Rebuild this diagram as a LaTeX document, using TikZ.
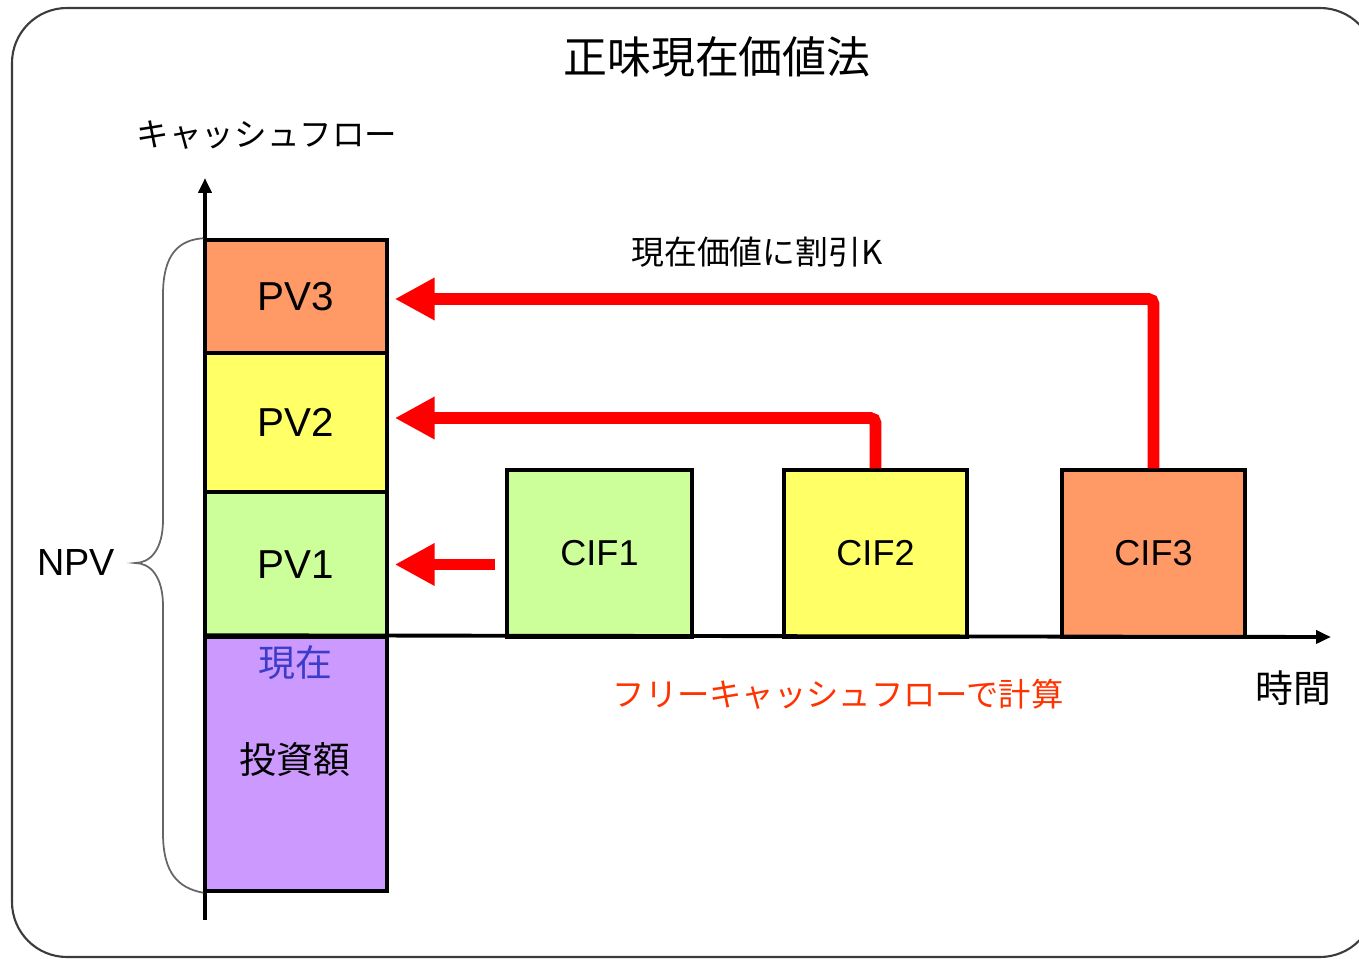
\documentclass[tikz,border=0pt]{standalone}
\usepackage{fontspec}
\setmainfont{Liberation Sans}
\newfontfamily\cjk{Noto Sans CJK JP}
\usepackage{xcolor}
\usepackage{tikz}
\usetikzlibrary{positioning,arrows.meta}

\definecolor{pvorange}{RGB}{255,153,102}
\definecolor{pvyellow}{RGB}{255,255,102}
\definecolor{pvgreen}{RGB}{204,255,153}
\definecolor{invpurple}{RGB}{204,153,255}
\definecolor{arrowred}{RGB}{255,0,0}
\definecolor{noteorange}{RGB}{255,51,0}
\definecolor{nowblue}{RGB}{60,60,200}
\definecolor{framegray}{RGB}{60,60,60}

\newcommand{\fsz}[1]{\fontsize{#1pt}{#1pt}\selectfont}

\begin{document}
\begin{tikzpicture}[x=0.02cm, y=-0.02cm,
        block/.style={draw, line width=2pt, rectangle, minimum width=3.64cm, inner sep=0pt, font=\fsz{23}},
        cif/.style={block, minimum height=3.34cm, minimum width=3.66cm, font=\fsz{20.5}},
        axis/.style={line width=2.2pt, -{Triangle[length=0.3cm,width=0.26cm]}},
        discount/.style={arrowred, line width=6.8pt, rounded corners=3pt, -{Triangle[length=0.8cm,width=0.8cm]}},
        lab/.style={inner sep=0pt, font=\cjk\fsz{20.5}}
    ]
        \useasboundingbox (0,0) rectangle (1359,959);

        % Outer frame
        \draw[framegray, line width=1.2pt, rounded corners=1.1cm] (12,8) rectangle (1375,957);

        % Title and axis labels
        \node[lab, font=\cjk\fsz{25}] (title) at (717,57) {正味現在価値法};
        \node[lab, font=\cjk\fsz{18.5}] (cflab) at (267,135) {キャッシュフロー};
        \node[lab, font=\cjk\fsz{21.5}] (timelab) at (1293,688) {時間};

        % Present values stacked on the cash flow axis
        \node[block, fill=pvorange, minimum height=2.26cm] (pv3) at (296,296.5) {PV3};
        \node[block, fill=pvyellow, minimum height=2.78cm] (pv2) at (296,422.5) {PV2};
        \node[block, fill=pvgreen, minimum height=2.90cm] (pv1) at (296,564.5) {PV1};
        \node[block, fill=invpurple, minimum height=5.08cm] (inv) at (296,764) {};
        \node[lab, font=\cjk\fsz{21}, text=nowblue] (now) at (295,663) {現在};
        \node[lab, font=\cjk\fsz{21}] (invlab) at (295,760) {投資額};

        % Future cash inflows
        \node[cif, fill=pvgreen, minimum width=3.70cm] (cif1) at (599.5,553.5) {CIF1};
        \node[cif, fill=pvyellow] (cif2) at (875.5,553.5) {CIF2};
        \node[cif, fill=pvorange] (cif3) at (1153.5,553.5) {CIF3};

        % Axes
        \coordinate (ybot) at (205,920);
        \coordinate (ytop) at (205,178);
        \coordinate (xend) at (1331,637);
        \draw[axis] (ybot) -- (ytop);
        \draw[axis] (inv.north west) -- (xend);

        % NPV brace
        \draw[gray!80!black, line width=1pt] (pv3.north west)
            .. controls (178,240) and (163,255) .. (163,295) -- (163,520)
            .. controls (163,550) and (150,563) .. (135,563)
            .. controls (150,563) and (163,576) .. (163,606) -- (163,833)
            .. controls (163,873) and (178,888) .. (inv.south west);
        \node[inner sep=0pt, font=\fsz{21.5}] (npv) at (76,563) {NPV};

        % Discounting arrows
        \draw[discount] (cif3.north) |- ([xshift=0.12cm,yshift=-0.05cm]pv3.east);
        \draw[discount] (cif2.north) |- ([xshift=0.12cm,yshift=0.09cm]pv2.east);
        \path (cif1.west |- pv1.east) ++(-0.2cm,0) coordinate (c1tail);
        \draw[discount] (c1tail) -- ([xshift=0.12cm]pv1.east);
        \node[lab, font=\cjk\fsz{18.7}] (disclab) at (757,252) {現在価値に割引K};
        \node[lab, font=\cjk\fsz{18.4}, text=noteorange] (fcflab) at (838,694) {フリーキャッシュフローで計算};
    \end{tikzpicture}
\end{document}
